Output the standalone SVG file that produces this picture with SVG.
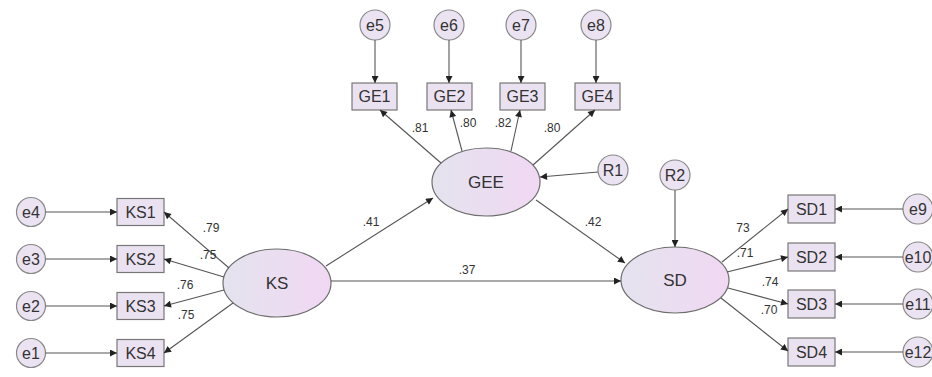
<svg xmlns="http://www.w3.org/2000/svg" width="932" height="377" viewBox="0 0 932 377">
<defs>
<linearGradient id="lg" x1="0" y1="0" x2="1" y2="0">
<stop offset="0" stop-color="#e4e3ee"/>
<stop offset="1" stop-color="#f1d8f3"/>
</linearGradient>
<marker id="ah" viewBox="0 0 10 10" refX="10" refY="5" markerWidth="9" markerHeight="7" orient="auto" markerUnits="userSpaceOnUse">
<path d="M0,0 L10,5 L0,10 z" fill="#222"/>
</marker>
</defs>
<style>
.lat{fill:url(#lg);stroke:#6e6e6e;stroke-width:1.2}
.obs{fill:#ebe2f1;stroke:#777;stroke-width:1.2}
.err{fill:#ece3f2;stroke:#888;stroke-width:1.2}
.t{font-family:"Liberation Sans",Arial,sans-serif;fill:#333;text-anchor:middle;dominant-baseline:central}
.tl{font-size:17px}
.tb{font-size:16px}
.te{font-size:16px}
.lab{font-family:"Liberation Sans",Arial,sans-serif;fill:#333;font-size:12px;text-anchor:middle}
.c{stroke:#555;stroke-width:1.1;fill:none;marker-end:url(#ah)}
</style>
<rect width="932" height="377" fill="#ffffff"/>

<g id="KS"><ellipse class="lat" cx="277" cy="283" rx="54" ry="34"/><text class="t tl" x="277" y="283">KS</text></g>
<g id="GEE"><ellipse class="lat" cx="486" cy="182" rx="54" ry="34"/><text class="t tl" x="486" y="182">GEE</text></g>
<g id="SD"><ellipse class="lat" cx="675" cy="280" rx="54" ry="33"/><text class="t tl" x="675" y="280">SD</text></g>

<g id="KS1"><rect class="obs" x="117" y="198.5" width="47" height="27"/><text class="t tb" x="140.5" y="212">KS1</text></g>
<g id="KS2"><rect class="obs" x="117" y="245.5" width="47" height="27"/><text class="t tb" x="140.5" y="259">KS2</text></g>
<g id="KS3"><rect class="obs" x="117" y="292.5" width="47" height="27"/><text class="t tb" x="140.5" y="306">KS3</text></g>
<g id="KS4"><rect class="obs" x="117" y="339.5" width="47" height="27"/><text class="t tb" x="140.5" y="353">KS4</text></g>

<g id="e4"><circle class="err" cx="31" cy="212" r="14.5"/><text class="t te" x="31" y="212">e4</text></g>
<g id="e3"><circle class="err" cx="31" cy="259" r="14.5"/><text class="t te" x="31" y="259">e3</text></g>
<g id="e2"><circle class="err" cx="31" cy="306" r="14.5"/><text class="t te" x="31" y="306">e2</text></g>
<g id="e1"><circle class="err" cx="31" cy="353" r="14.5"/><text class="t te" x="31" y="353">e1</text></g>

<g id="GE1"><rect class="obs" x="352" y="83" width="45" height="27"/><text class="t tb" x="374.5" y="96.5">GE1</text></g>
<g id="GE2"><rect class="obs" x="427" y="83" width="45" height="27"/><text class="t tb" x="449.5" y="96.5">GE2</text></g>
<g id="GE3"><rect class="obs" x="500" y="83" width="45" height="27"/><text class="t tb" x="522.5" y="96.5">GE3</text></g>
<g id="GE4"><rect class="obs" x="575" y="83" width="45" height="27"/><text class="t tb" x="597.5" y="96.5">GE4</text></g>

<g id="e5"><circle class="err" cx="375" cy="25" r="15"/><text class="t te" x="375" y="25">e5</text></g>
<g id="e6"><circle class="err" cx="449" cy="25" r="15"/><text class="t te" x="449" y="25">e6</text></g>
<g id="e7"><circle class="err" cx="521" cy="25" r="15"/><text class="t te" x="521" y="25">e7</text></g>
<g id="e8"><circle class="err" cx="596" cy="25" r="15"/><text class="t te" x="596" y="25">e8</text></g>

<g id="R1"><circle class="err" cx="613" cy="170" r="15"/><text class="t te" x="613" y="170">R1</text></g>
<g id="R2"><circle class="err" cx="675" cy="175" r="15"/><text class="t te" x="675" y="175">R2</text></g>

<g id="SD1"><rect class="obs" x="788" y="195" width="47" height="28"/><text class="t tb" x="811.5" y="209">SD1</text></g>
<g id="SD2"><rect class="obs" x="788" y="243" width="47" height="28"/><text class="t tb" x="811.5" y="257">SD2</text></g>
<g id="SD3"><rect class="obs" x="788" y="290" width="47" height="28"/><text class="t tb" x="811.5" y="304">SD3</text></g>
<g id="SD4"><rect class="obs" x="788" y="338" width="47" height="28"/><text class="t tb" x="811.5" y="352">SD4</text></g>

<g id="e9"><circle class="err" cx="918" cy="209" r="15"/><text class="t te" x="918" y="209">e9</text></g>
<g id="e10"><circle class="err" cx="918" cy="257" r="15"/><text class="t te" x="918" y="257">e10</text></g>
<g id="e11"><circle class="err" cx="918" cy="304" r="15"/><text class="t te" x="918" y="304">e11</text></g>
<g id="e12"><circle class="err" cx="918" cy="352" r="15"/><text class="t te" x="918" y="352">e12</text></g>

<g id="connectors">
<line class="c" x1="229" y1="268" x2="164" y2="212"/>
<line class="c" x1="224" y1="277" x2="164" y2="259"/>
<line class="c" x1="224" y1="290" x2="164" y2="306"/>
<line class="c" x1="233" y1="303" x2="164" y2="353"/>
<line class="c" x1="45.5" y1="212" x2="117" y2="212"/>
<line class="c" x1="45.5" y1="259" x2="117" y2="259"/>
<line class="c" x1="45.5" y1="306" x2="117" y2="306"/>
<line class="c" x1="45.5" y1="353" x2="117" y2="353"/>
<line class="c" x1="441" y1="163" x2="380" y2="110"/>
<line class="c" x1="462" y1="151" x2="451" y2="110"/>
<line class="c" x1="511" y1="151" x2="520" y2="110"/>
<line class="c" x1="533" y1="165" x2="595" y2="110"/>
<line class="c" x1="375" y1="40" x2="375" y2="83"/>
<line class="c" x1="449" y1="40" x2="449" y2="83"/>
<line class="c" x1="521" y1="40" x2="521" y2="83"/>
<line class="c" x1="596" y1="40" x2="596" y2="83"/>
<line class="c" x1="598" y1="172" x2="540" y2="177"/>
<line class="c" x1="326" y1="266" x2="433" y2="198"/>
<line class="c" x1="536" y1="200" x2="625" y2="263"/>
<line class="c" x1="331" y1="281" x2="621" y2="281"/>
<line class="c" x1="675" y1="190" x2="675" y2="247"/>
<line class="c" x1="722" y1="262" x2="788" y2="209"/>
<line class="c" x1="727" y1="272" x2="788" y2="257"/>
<line class="c" x1="728" y1="288" x2="788" y2="304"/>
<line class="c" x1="721" y1="298" x2="788" y2="351"/>
<line class="c" x1="903" y1="209" x2="835" y2="209"/>
<line class="c" x1="903" y1="257" x2="835" y2="257"/>
<line class="c" x1="903" y1="304" x2="835" y2="304"/>
<line class="c" x1="903" y1="352" x2="835" y2="352"/>
</g>

<g id="labels">
<text class="lab" x="211" y="232">.79</text>
<text class="lab" x="208" y="259">.75</text>
<text class="lab" x="185" y="289">.76</text>
<text class="lab" x="186" y="319">.75</text>
<text class="lab" x="371" y="226">.41</text>
<text class="lab" x="467" y="274">.37</text>
<text class="lab" x="593" y="226">.42</text>
<text class="lab" x="420" y="132">.81</text>
<text class="lab" x="468" y="127">.80</text>
<text class="lab" x="503" y="127">.82</text>
<text class="lab" x="552" y="132">.80</text>
<text class="lab" x="743" y="232">73</text>
<text class="lab" x="745" y="257">.71</text>
<text class="lab" x="770" y="286">.74</text>
<text class="lab" x="769" y="314">.70</text>
</g>
</svg>
